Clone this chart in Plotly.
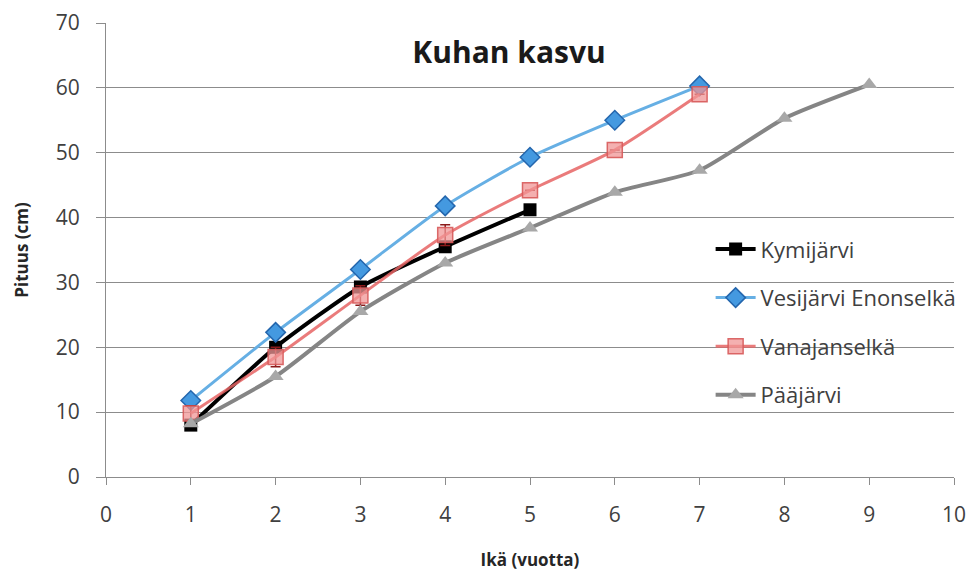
import plotly.graph_objects as go

# Fish age (years) and mean length (cm) per lake
kymi_age = [1, 2, 3, 4, 5]
kymi_len = [8.0, 20.0, 29.3, 35.5, 41.2]

vesi_age = [1, 2, 3, 4, 5, 6, 7]
vesi_len = [11.8, 22.3, 32.0, 41.8, 49.3, 55.0, 60.3]
vesi_err = [1.0, 1.0, 1.0, 0.8, 0.0, 0.0, 0.0]

vana_age = [1, 2, 3, 4, 5, 6, 7]
vana_len = [9.8, 18.5, 28.0, 37.3, 44.2, 50.4, 59.0]
vana_err = [1.2, 1.5, 1.5, 1.6, 0.0, 0.0, 0.0]

paa_age = [1, 2, 3, 4, 5, 6, 7, 8, 9]
paa_len = [8.2, 15.5, 25.5, 33.0, 38.4, 43.9, 47.3, 55.3, 60.5]

x_ticks = [0, 1, 2, 3, 4, 5, 6, 7, 8, 9, 10]
y_ticks = [0, 10, 20, 30, 40, 50, 60, 70]

FONT = "Open Sans"
GRID = "#8c8c8c"

fig = go.Figure()

fig.add_trace(go.Scatter(
    x=kymi_age, y=kymi_len, name="Kymijärvi", legendgroup="a",
    mode="lines+markers", line=dict(color="#000000", width=4, shape="spline", smoothing=0.6),
    marker=dict(symbol="square", size=13, color="#000000"),
))
fig.add_trace(go.Scatter(
    x=vesi_age, y=vesi_len, name="Vesijärvi Enonselkä", legendgroup="b",
    mode="lines+markers", line=dict(color="#66afe4", width=3, shape="spline", smoothing=0.6),
    marker=dict(symbol="diamond", size=15, color="#4499e0", line=dict(color="#2466ad", width=1.5)),
    error_y=dict(type="data", array=vesi_err, color="#1f4f8a", thickness=1, width=3),
))
fig.add_trace(go.Scatter(
    x=vana_age, y=vana_len, name="Vanajanselkä", legendgroup="c",
    mode="lines+markers", line=dict(color="rgba(230,100,100,0.85)", width=3, shape="spline", smoothing=0.6),
    marker=dict(symbol="square", size=15, color="rgba(240,150,150,0.75)", line=dict(color="rgba(215,90,90,0.9)", width=1.5)),
    error_y=dict(type="data", array=vana_err, color="#8b1a1a", thickness=1.5, width=5),
))
fig.add_trace(go.Scatter(
    x=paa_age, y=paa_len, name="Pääjärvi", legendgroup="d",
    mode="lines+markers", line=dict(color="#858585", width=4, shape="spline", smoothing=0.6),
    marker=dict(symbol="triangle-up", size=14, color="#a8a8a8"),
))

fig.update_layout(
    width=970, height=582,
    margin=dict(l=106, r=16, t=23, b=105, autoexpand=False),
    paper_bgcolor="white", plot_bgcolor="white",
    font=dict(family=FONT, size=21, color="#404040"),
    title=dict(text="<b>Kuhan kasvu</b>", x=509 / 970, xanchor="center",
               y=1 - 52 / 582, yanchor="middle",
               font=dict(family=FONT, size=30, color="#1a1a1a")),
    legend=dict(x=0.713, y=0.548, xanchor="left", yanchor="top",
                bgcolor="rgba(0,0,0,0)", traceorder="grouped", tracegroupgap=17,
                font=dict(family=FONT, size=22, color="#404040"), itemwidth=40),
    showlegend=True,
)

fig.update_xaxes(
    range=[0, 10], tickvals=x_ticks, ticktext=[str(v) for v in x_ticks],
    automargin=False,
    showgrid=False, showline=True, linecolor=GRID, linewidth=1,
    ticks="outside", ticklen=7, tickcolor=GRID, ticklabelstandoff=12,
    zeroline=False,
    title=dict(text="<b>Ikä (vuotta)</b>", standoff=26,
               font=dict(family=FONT, size=17, color="#262626")),
)
fig.update_yaxes(
    range=[0, 70], tickvals=y_ticks, ticktext=[str(v) for v in y_ticks],
    automargin=False,
    showgrid=True, gridcolor=GRID, gridwidth=1,
    showline=True, linecolor=GRID, linewidth=1,
    ticks="outside", ticklen=9, tickcolor=GRID, ticklabelstandoff=12,
    zeroline=False,
    title=dict(text="<b>Pituus (cm)</b>", standoff=22,
               font=dict(family=FONT, size=17, color="#262626")),
)

fig.write_html("out.html")
